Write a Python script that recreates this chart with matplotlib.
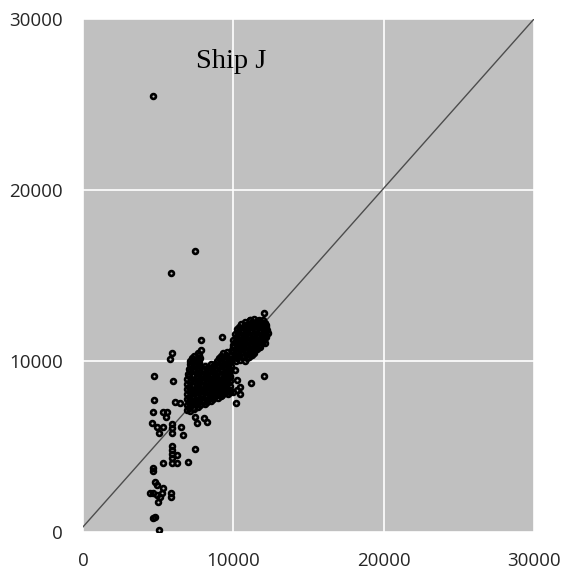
import matplotlib
matplotlib.use("Agg")
import matplotlib.pyplot as plt

# Scattered observations outside the main cluster
outer_x = [4650, 7450, 5850, 12060, 9220, 7850, 5900, 5790, 4700, 5990,
           12040, 11190, 4700, 4640, 5340, 5610, 5520, 4610, 4900, 5300,
           5070, 5920, 5920, 5920, 6500, 6670, 7450, 7600, 8050, 8230,
           7450, 5900, 5900, 5900, 5900, 5900, 6230, 6270, 5300, 7000,
           4680, 4680, 4790, 4900, 5340, 4460, 4680, 4900, 5120, 5230,
           5830, 5830, 5010, 4680, 4770, 5070, 10170, 9950, 10220, 10440,
           10440, 10260, 9220, 10110, 11100, 6120, 6450]
outer_y = [25500, 16450, 15150, 12830, 11420, 11230, 10450, 10100, 9130, 8850,
           9130, 8700, 7720, 7040, 7040, 7040, 6750, 6360, 6160, 6130,
           5770, 6320, 6070, 5770, 6140, 5690, 6750, 6360, 6650, 6420,
           4860, 5050, 4800, 4560, 4310, 4020, 4500, 4020, 4020, 4080,
           3730, 3590, 2940, 2750, 2590, 2260, 2260, 2160, 2070, 2260,
           2300, 2030, 1750, 800, 900, 100, 7560, 8210, 8310, 8070,
           8460, 8890, 8010, 9480, 12400, 7620, 7530]

# Dense lower group
low_x = [6900, 7150, 7400,
         7050, 7300, 7650,
         6950, 7200, 7500, 7800, 8100,
         7050, 7350, 7650, 7950, 8250, 8500,
         6900, 7150, 7450, 7700, 8000, 8300, 8650, 8950,
         7050, 7350, 7600, 7900, 8200, 8500, 8800, 9150,
         6950, 7250, 7550, 7850, 8150, 8450, 8750, 9050, 9350, 9650,
         7100, 7400, 7700, 8000, 8300, 8600, 8900, 9200, 9500, 9750,
         6900, 7200, 7500, 7800, 8100, 8400, 8700, 9000, 9300, 9600, 9800,
         7050, 7350, 7650, 7950, 8250, 8550, 8850, 9150, 9450, 9750,
         6950, 7250, 7550, 7850, 8150, 8450, 8750, 9050, 9350, 9650,
         7100, 7400, 7700, 8000, 8300, 8600, 8900, 9200, 9500, 9750,
         6900, 7200, 7500, 7800, 8100, 8400, 8700, 9000, 9300, 9600, 9800,
         7050, 7350, 7650, 7950, 8250, 8550, 8850, 9150, 9450, 9750,
         7000, 7300, 7600, 7900, 8200, 8500, 8800, 9100, 9400, 9700,
         7150, 7450, 7750, 8050, 8350, 8650, 8950, 9250, 9550, 9800,
         7050, 7350, 7650, 7950, 8250, 8550, 8850, 9150, 9450, 9750,
         7200, 7500, 7800, 8100, 8650, 8950, 9250, 9550, 9850,
         7100, 7400, 7700, 8500, 8800, 9100, 9400, 9700,
         7150, 7450, 7700, 8900, 9200, 9500, 9750,
         7250, 7550, 7800, 9050, 9350, 9650,
         7400, 7700, 9200, 9500,
         7650, 7850, 9300, 9550]
low_y = [7150, 7100, 7200,
         7300, 7280, 7320,
         7450, 7400, 7480, 7420, 7500,
         7600, 7620, 7580, 7620, 7600, 7650,
         7750, 7800, 7720, 7780, 7700, 7760, 7800, 7830,
         7900, 7920, 7880, 7950, 7900, 7920, 7950, 7980,
         8050, 8100, 8020, 8080, 8000, 8060, 8100, 8030, 8100, 8050,
         8200, 8220, 8180, 8250, 8200, 8230, 8200, 8250, 8200, 8180,
         8350, 8300, 8380, 8320, 8400, 8330, 8380, 8310, 8400, 8350, 8300,
         8500, 8520, 8480, 8550, 8500, 8520, 8480, 8550, 8500, 8520,
         8650, 8620, 8680, 8600, 8700, 8640, 8600, 8680, 8620, 8700,
         8800, 8820, 8780, 8850, 8800, 8820, 8780, 8850, 8800, 8820,
         8950, 8900, 8980, 8920, 9000, 8930, 8960, 8900, 9000, 8950, 9050,
         9100, 9120, 9080, 9150, 9100, 9120, 9080, 9150, 9100, 9120,
         9250, 9200, 9280, 9220, 9300, 9230, 9260, 9200, 9300, 9250,
         9400, 9420, 9380, 9450, 9400, 9420, 9380, 9450, 9400, 9420,
         9550, 9500, 9580, 9520, 9600, 9530, 9560, 9500, 9600, 9550,
         9700, 9720, 9680, 9720, 9700, 9720, 9680, 9750, 9700,
         9850, 9800, 9880, 9850, 9800, 9880, 9820, 9900,
         10000, 10020, 10050, 10000, 10020, 10050, 10000,
         10150, 10100, 10200, 10150, 10100, 10200,
         10300, 10350, 10300, 10350,
         10450, 10650, 10450, 10500]

# Dense upper group
up_x = [9850, 10150, 10450, 10750,
        9950, 10250, 10600, 10900, 11050,
        9850, 10100, 10400, 10700, 11000, 11250,
        9950, 10250, 10550, 10850, 11150, 11400,
        9900, 10200, 10500, 10800, 11100, 11400, 11600,
        10000, 10350, 10650, 10950, 11250, 11550, 11750,
        9950, 10250, 10550, 10850, 11150, 11450, 11750, 11900,
        10100, 10400, 10700, 11000, 11300, 11600, 11900, 12100,
        10000, 10300, 10600, 10900, 11200, 11500, 11800, 12050,
        10150, 10450, 10750, 11050, 11350, 11650, 11950, 12200,
        10100, 10400, 10700, 11000, 11300, 11600, 11900, 12150,
        10300, 10600, 10900, 11200, 11500, 11800, 12100, 12300,
        10250, 10550, 10850, 11150, 11450, 11750, 12050, 12250,
        10400, 10700, 11000, 11300, 11600, 11900, 12200,
        10500, 10800, 11100, 11400, 11700, 12000, 12200,
        10800, 11250, 11550, 11850, 12100,
        11100, 11400, 11700, 11950]
up_y = [10050, 10000, 10080, 10020,
        10200, 10180, 10220, 10200, 10250,
        10350, 10300, 10380, 10320, 10400, 10330,
        10500, 10480, 10520, 10500, 10550, 10480,
        10650, 10600, 10680, 10620, 10700, 10630, 10680,
        10800, 10780, 10820, 10800, 10850, 10780, 10820,
        10950, 10900, 10980, 10920, 11000, 10930, 10960, 11050,
        11100, 11080, 11120, 11100, 11150, 11080, 11120, 11050,
        11250, 11200, 11280, 11220, 11300, 11230, 11260, 11200,
        11400, 11380, 11420, 11400, 11450, 11380, 11420, 11380,
        11550, 11500, 11580, 11520, 11600, 11530, 11560, 11500,
        11700, 11680, 11720, 11700, 11750, 11680, 11720, 11650,
        11850, 11800, 11880, 11820, 11900, 11830, 11860, 11800,
        12000, 11980, 12020, 12000, 12050, 11980, 12000,
        12150, 12100, 12180, 12120, 12200, 12130, 12100,
        12300, 12280, 12320, 12300, 12250,
        12400, 12450, 12380, 12420]

# Reference line
ref_x = [0, 30000]
ref_y = [300, 30000]

ticks = [0, 10000, 20000, 30000]
tick_labels = ["0", "10000", "20000", "30000"]

fig = plt.figure(figsize=(5.64, 5.74), dpi=100)
ax = fig.add_axes([83 / 564, 42 / 574, 451 / 564, 513 / 574])
ax.set_facecolor("#c0c0c0")

ax.plot(ref_x, ref_y, color="#4d4d4d", lw=1.0, zorder=2)

all_x = outer_x + low_x + up_x
all_y = outer_y + low_y + up_y
ax.plot(all_x, all_y, linestyle="none", marker="o", ms=3.5,
        mfc="none", mec="black", mew=1.9, zorder=3)

ax.set_xlim(0, 30000)
ax.set_ylim(0, 30000)
ax.set_xticks(ticks)
ax.set_yticks(ticks)
ax.set_xticklabels(tick_labels)
ax.set_yticklabels(tick_labels)
ax.grid(True, color="white", lw=1.2, zorder=1)
ax.set_axisbelow(True)
for s in ax.spines.values():
    s.set_visible(False)
ax.tick_params(length=0, labelsize=13.5, labelcolor="#262626")
ax.tick_params(axis="y", pad=14.5)
ax.tick_params(axis="x", pad=14.5)
for lab in ax.get_xticklabels() + ax.get_yticklabels():
    lab.set_fontfamily("Open Sans")

ax.text(0.2506, 0.9045, "Ship J", transform=ax.transAxes, ha="left",
        va="baseline", fontsize=20.5, family="Liberation Serif", color="black")

fig.savefig("out.png", dpi=100)
